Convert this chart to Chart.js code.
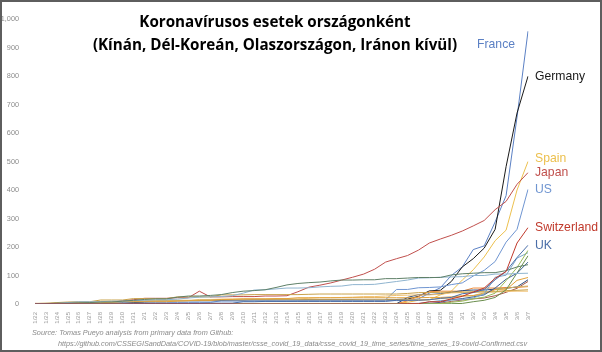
<!DOCTYPE html>
<html>
<head>
<meta charset="utf-8">
<script src="https://cdn.jsdelivr.net/npm/chart.js@4.4.1/dist/chart.umd.min.js"></script>
<style>
  html, body { margin: 0; padding: 0; background: #fff; }
  #wrap { position: relative; width: 602px; height: 352px; overflow: hidden; }
  #frame { position: absolute; left: 0; top: 0; width: 602px; height: 352px; box-sizing: border-box;
           border: 2px solid #5e5e5e; pointer-events: none; }
  #title { position: absolute; left: 0; top: 10px; width: 550px; text-align: center;
           font-family: "Open Sans", sans-serif; font-weight: bold; font-size: 15.2px; line-height: 23px; color: #000; }
  #source { position: absolute; left: 32px; top: 327px; font-family: "Liberation Sans", Arial, sans-serif;
            font-style: italic; font-size: 7.3px; line-height: 11px; color: #8a8a8a; }
  #source span { display: block; white-space: nowrap; }
</style>
</head>
<body>
<div id="wrap">
  <canvas id="ecgChart" width="602" height="352"></canvas>
  <div id="title">Koronavírusos esetek országonként<br>(Kínán, Dél-Koreán, Olaszországon, Iránon kívül)</div>
  <div id="source">
    <span>Source: Tomas Pueyo analysis from primary data from Github:</span>
    <span style="padding-left:26px; letter-spacing:-0.05px">https://github.com/CSSEGISandData/COVID-19/blob/master/csse_covid_19_data/csse_covid_19_time_series/time_series_19-covid-Confirmed.csv</span>
  </div>
  <div id="frame"></div>
</div>
<script>
const dates = ['1/22','1/23','1/24','1/25','1/26','1/27','1/28','1/29','1/30','1/31',
    '2/1','2/2','2/3','2/4','2/5','2/6','2/7','2/8','2/9','2/10','2/11','2/12','2/13','2/14','2/15',
    '2/16','2/17','2/18','2/19','2/20','2/21','2/22','2/23','2/24','2/25','2/26','2/27','2/28','2/29',
    '3/1','3/2','3/3','3/4','3/5','3/6','3/7'];
const yTicks = [0, 100, 200, 300, 400, 500, 600, 700, 800, 900, 1000];

// labelled countries
const france = [0,0,2,3,3,3,4,5,5,5,6,6,6,6,6,6,6,11,11,11,11,11,11,11,12,12,12,12,12,12,12,12,12,12,12,18,38,57,100,130,191,204,288,380,656,957];
const germany = [0,0,0,0,0,1,4,4,4,5,8,10,12,12,12,12,13,13,14,14,16,16,16,16,16,16,16,16,16,16,16,16,16,16,17,27,46,48,79,130,159,196,262,482,670,799];
const spain = [0,0,0,0,0,0,0,0,0,0,1,1,1,1,1,1,1,1,2,2,2,2,2,2,2,2,2,2,2,2,2,2,2,2,6,13,15,32,45,84,120,165,222,259,400,500];
const japan = [2,1,2,2,4,4,7,7,11,15,20,20,20,22,22,45,25,25,26,26,26,28,28,29,43,59,66,74,84,94,105,122,147,159,170,189,214,228,241,256,274,293,331,360,420,461];
const us = [1,1,2,2,5,5,5,5,5,7,8,8,11,11,11,11,11,11,11,11,12,12,13,13,13,13,13,13,13,13,15,15,15,51,51,57,58,60,68,74,98,118,149,217,262,402];
const switzerland = [0,0,0,0,0,0,0,0,0,0,0,0,0,0,0,0,0,0,0,0,0,0,0,0,0,0,0,0,0,0,0,0,0,0,1,1,8,8,18,27,42,56,90,114,214,268];
const uk = [0,0,0,0,0,0,0,0,0,2,2,2,2,2,2,2,3,3,3,8,8,9,9,9,9,9,9,9,9,9,9,9,9,13,13,13,15,20,23,36,40,51,85,115,163,206];

// unlabelled countries
const singapore = [0,1,3,3,4,5,7,7,10,13,16,18,18,24,28,28,30,33,40,45,47,50,58,67,72,75,77,81,84,84,85,85,89,89,91,93,93,93,102,106,108,110,110,117,130,138];
const hongKong = [0,2,2,5,8,8,8,10,10,12,13,15,15,17,21,24,25,26,29,38,49,50,53,56,56,57,60,62,63,68,68,69,74,79,84,91,92,94,95,96,100,100,105,105,107,108];
const netherlands = [0,0,0,0,0,0,0,0,0,0,0,0,0,0,0,0,0,0,0,0,0,0,0,0,0,0,0,0,0,0,0,0,0,0,0,0,1,1,6,10,18,24,38,82,128,188];
const sweden = [0,0,0,0,0,0,0,0,0,1,1,1,1,1,1,1,1,1,1,1,1,1,1,1,1,1,1,1,1,1,1,1,1,1,1,2,7,12,14,15,21,35,94,101,161,180];
const norway = [0,0,0,0,0,0,0,0,0,0,0,0,0,0,0,0,0,0,0,0,0,0,0,0,0,0,0,0,0,0,0,0,0,0,0,1,1,6,15,19,25,32,56,87,108,147];
const belgium = [0,0,0,0,0,0,0,0,0,0,0,0,0,1,1,1,1,1,1,1,1,1,1,1,1,1,1,1,1,1,1,1,1,1,1,1,1,1,1,2,8,13,23,50,109,169];
const malaysia = [0,0,0,3,4,4,4,7,8,8,8,8,8,10,12,12,12,16,16,18,18,18,19,19,22,22,22,22,22,22,22,22,22,22,22,22,23,23,25,29,29,36,50,50,83,93];
const australia = [0,0,0,0,4,5,5,6,9,9,12,12,12,13,13,14,15,15,15,15,15,15,15,15,15,15,15,15,15,15,15,15,15,15,15,15,15,19,21,27,30,39,52,55,60,63];
const thailand = [2,3,5,7,8,8,14,14,14,19,19,19,19,25,25,25,25,32,32,32,33,33,33,33,33,34,35,35,35,35,35,35,35,35,37,40,40,41,42,42,43,43,43,47,48,50];
const taiwan = [1,1,3,3,4,5,8,8,9,10,10,10,10,11,11,16,16,17,18,18,18,18,18,18,18,20,22,22,23,24,26,26,28,30,31,32,32,34,39,40,41,42,42,44,45,45];
const bahrain = [0,0,0,0,0,0,0,0,0,0,0,0,0,0,0,0,0,0,0,0,0,0,0,0,0,0,0,0,0,0,0,0,0,1,23,33,33,36,41,47,49,49,52,55,60,85];
const kuwait = [0,0,0,0,0,0,0,0,0,0,0,0,0,0,0,0,0,0,0,0,0,0,0,0,0,0,0,0,0,0,0,0,0,1,11,26,43,45,45,45,56,56,56,58,58,61];
const austria = [0,0,0,0,0,0,0,0,0,0,0,0,0,0,0,0,0,0,0,0,0,0,0,0,0,0,0,0,0,0,0,0,0,0,2,2,3,3,9,14,18,21,29,41,55,79];

const seriesNames = ['Switzerland','UK','Singapore','Hong Kong','Netherlands','Sweden','Norway','Belgium',
    'Malaysia','Australia','Thailand','Taiwan','Bahrain','Kuwait','Austria','US','Japan','Spain','Germany','France'];
const seriesData = [switzerland, uk, singapore, hongKong, netherlands, sweden, norway, belgium,
    malaysia, australia, thailand, taiwan, bahrain, kuwait, austria, us, japan, spain, germany, france];
const seriesColors = ['#c0392b','#4a6ea8','#5f8068','#8fb4cf','#9bbb59','#7aa6c9','#3d5f91','#6b8e4e',
    '#e2a23c','#d4b36a','#c9a24a','#f0c070','#2e4d7a','#f08c3a','#a65a4a','#6f95d1','#c0504d','#ecc04e','#1a1a1a','#5b80c4'];
const labelled = ['France','Germany','Spain','Japan','US','Switzerland','UK'];

const endLabels = {
    id: 'endLabels',
    afterDatasetsDraw(chart) {
        const ctx = chart.ctx;
        const y = chart.scales.y;
        const area = chart.chartArea;
        ctx.save();
        ctx.font = '12.2px "Liberation Sans", Arial, sans-serif';
        ctx.textBaseline = 'middle';
        chart.data.datasets.forEach(ds => {
            if (!labelled.includes(ds.label)) return;
            const last = ds.data[ds.data.length - 1];
            let py = y.getPixelForValue(last);
            let px = area.right + 7;
            ctx.textAlign = 'left';
            if (ds.label === 'France') {
                px = area.right - 13;
                py += 13;
                ctx.textAlign = 'right';
            }
            if (ds.label === 'Spain') py -= 3;
            ctx.fillStyle = ds.borderColor;
            ctx.fillText(ds.label, px, py);
        });
        ctx.restore();
    }
};

const ctx = document.getElementById('ecgChart').getContext('2d');
const ecgChart = new Chart(ctx, {
    type: 'line',
    data: {
        labels: dates,
        datasets: seriesNames.map((name, i) => ({
            label: name,
            data: seriesData[i],
            borderColor: seriesColors[i],
            borderWidth: 1,
            fill: false,
            tension: 0,
            pointRadius: 0
        }))
    },
    options: {
        responsive: false,
        animation: false,
        layout: { padding: { left: 0, right: 74, top: 19, bottom: 0 } },
        plugins: { legend: { display: false }, tooltip: { enabled: false } },
        scales: {
            x: {
                grid: { display: false },
                border: { display: false },
                afterFit: (s) => { s.height = 48; },
                ticks: {
                    autoSkip: false, maxRotation: 90, minRotation: 90, padding: 0,
                    color: '#9a9a9a', font: { size: 6, family: '"Liberation Sans", Arial, sans-serif' }
                }
            },
            y: {
                min: 0, max: 1000,
                afterBuildTicks: (s) => { s.ticks = yTicks.map(v => ({ value: v })); },
                afterFit: (s) => { s.width = 35; },
                grid: { display: false },
                border: { display: false },
                ticks: {
                    padding: 8,
                    color: '#8c8c8c', font: { size: 7.3, family: '"Liberation Sans", Arial, sans-serif' }
                }
            }
        }
    },
    plugins: [endLabels]
});
</script>
</body>
</html>
